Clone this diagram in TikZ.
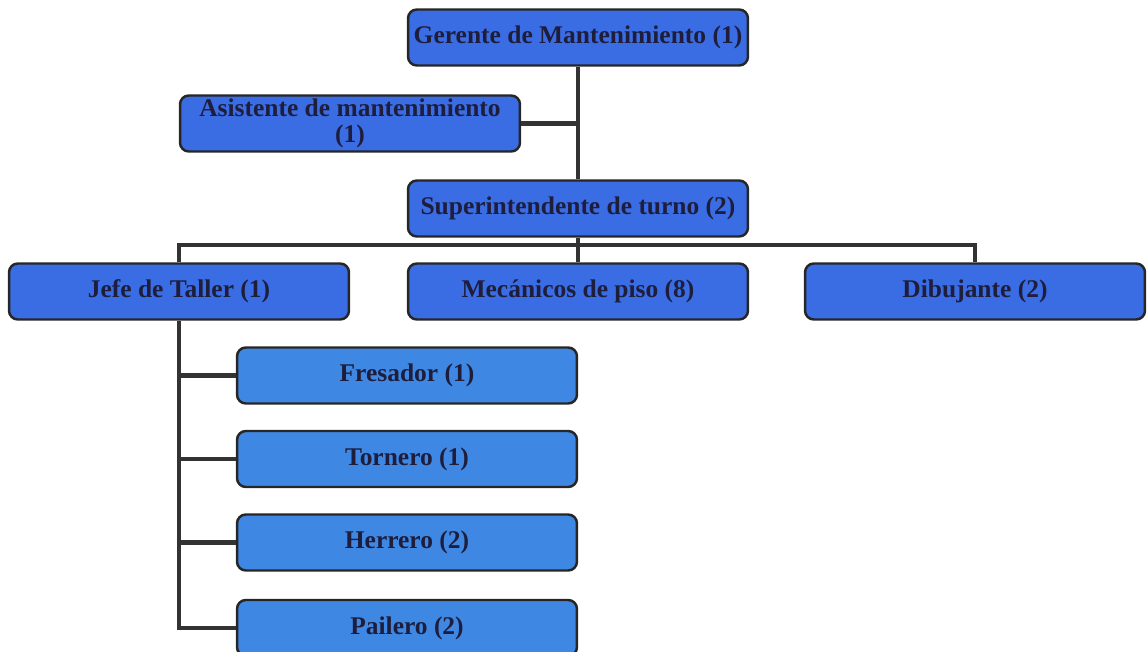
\documentclass[tikz,border=0pt]{standalone}
\usepackage{fontspec}
\setmainfont{Liberation Serif}
\definecolor{azul}{RGB}{58,108,228}
\definecolor{azulclaro}{RGB}{62,136,228}
\definecolor{texto}{RGB}{30,30,60}
\begin{document}
\begin{tikzpicture}[x=0.02cm,y=-0.02cm,
	puesto/.style={draw=black!85,line width=1.4pt,rounded corners=5pt,fill=azul,text=texto,
		minimum width=6.8cm,minimum height=1.12cm,inner sep=1pt,align=center,
		font=\fontsize{14.5}{15}\selectfont\bfseries},
	oficio/.style={puesto,fill=azulclaro},
	linea/.style={draw=black!80,line width=2.6pt}]
	\useasboundingbox (0,0) rectangle (1147,652);
	\node[puesto] (gerente) at (578,37.5) {Gerente de Mantenimiento (1)};
	\node[puesto] (asistente) at (350,123.5) {Asistente de mantenimiento\\(1)};
	\node[puesto] (super) at (578,208.5) {Superintendente de turno (2)};
	\node[puesto] (jefe) at (179,291.5) {Jefe de Taller (1)};
	\node[puesto] (mecanicos) at (578,291.5) {Mecánicos de piso (8)};
	\node[puesto] (dibujante) at (975,291.5) {Dibujante (2)};
	\node[oficio] (fresador) at (407,375.5) {Fresador (1)};
	\node[oficio] (tornero) at (407,459) {Tornero (1)};
	\node[oficio] (herrero) at (407,542.5) {Herrero (2)};
	\node[oficio] (pailero) at (407,628) {Pailero (2)};
	\coordinate (bus) at (578,245);
	\draw[linea] (gerente.south) -- (super.north);
	\draw[linea] (asistente.east) -- (asistente.east -| gerente.south);
	\draw[linea] (super.south) -- (bus) -- (mecanicos.north);
	\draw[linea] (jefe.north) |- (bus) -| (dibujante.north);
	\draw[linea] (jefe.south) |- (pailero.west);
	\foreach \n in {fresador,tornero,herrero}
		\draw[linea] (jefe.south |- \n.west) -- (\n.west);
\end{tikzpicture}
\end{document}
